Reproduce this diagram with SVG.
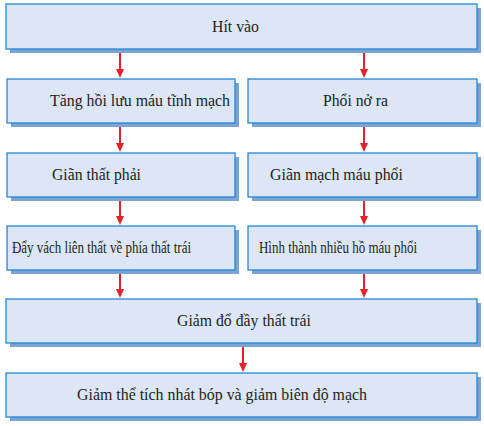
<svg xmlns="http://www.w3.org/2000/svg" width="484" height="426" viewBox="0 0 484 426">
<defs>
<style>
.sh{fill:#7ba3d6;}
.bx{fill:#dce6f4;stroke:#2288d8;stroke-width:1.3;}
.t{font-family:"Liberation Serif","Times New Roman",serif;font-size:16.5px;fill:#231f20;}
.c{stroke:#e8202a;stroke-width:2;fill:none;}
.h{fill:#e8202a;}
</style>
</defs>
<rect width="484" height="426" fill="#ffffff"/>
<g id="n1"><rect class="sh" x="10" y="8" width="471" height="45"/><rect class="bx" x="6" y="4" width="471" height="45"/><text class="t" x="212" y="32" textLength="47" lengthAdjust="spacingAndGlyphs">Hít vào</text></g>
<g id="n2"><rect class="sh" x="11" y="83" width="228" height="44"/><rect class="bx" x="7" y="79" width="228" height="44"/><text class="t" x="50" y="106" textLength="180" lengthAdjust="spacingAndGlyphs">Tăng hồi lưu máu tĩnh mạch</text></g>
<g id="n3"><rect class="sh" x="252" y="83" width="229" height="44"/><rect class="bx" x="248" y="79" width="229" height="44"/><text class="t" x="323" y="106" textLength="65" lengthAdjust="spacingAndGlyphs">Phổi nở ra</text></g>
<g id="n4"><rect class="sh" x="11" y="157" width="228" height="44"/><rect class="bx" x="7" y="153" width="228" height="44"/><text class="t" x="52" y="180" textLength="89" lengthAdjust="spacingAndGlyphs">Giãn thất phải</text></g>
<g id="n5"><rect class="sh" x="252" y="157" width="229" height="44"/><rect class="bx" x="248" y="153" width="229" height="44"/><text class="t" x="270" y="180" textLength="133" lengthAdjust="spacingAndGlyphs">Giãn mạch máu phổi</text></g>
<g id="n6"><rect class="sh" x="11" y="230" width="228" height="44"/><rect class="bx" x="7" y="226" width="228" height="44"/><text class="t" x="12" y="253" textLength="179" lengthAdjust="spacingAndGlyphs">Đẩy  vách liên thất về phía thất trái</text></g>
<g id="n7"><rect class="sh" x="252" y="230" width="229" height="44"/><rect class="bx" x="248" y="226" width="229" height="44"/><text class="t" x="259" y="253" textLength="158" lengthAdjust="spacingAndGlyphs">Hình thành nhiều hồ máu phổi</text></g>
<g id="n8"><rect class="sh" x="10" y="303" width="471" height="44"/><rect class="bx" x="6" y="299" width="471" height="44"/><text class="t" x="177" y="326" textLength="134" lengthAdjust="spacingAndGlyphs">Giảm đổ đầy thất trái</text></g>
<g id="n9"><rect class="sh" x="10" y="377" width="471" height="44"/><rect class="bx" x="6" y="373" width="471" height="44"/><text class="t" x="77" y="400" textLength="290" lengthAdjust="spacingAndGlyphs">Giảm thể tích nhát bóp và giảm biên độ mạch</text></g>
<g id="connectors">
<line class="c" x1="120" y1="53" x2="120" y2="70"/><path class="h" d="M116,69 L124,69 L120,78 Z"/>
<line class="c" x1="364" y1="53" x2="364" y2="70"/><path class="h" d="M360,69 L368,69 L364,78 Z"/>
<line class="c" x1="120" y1="127" x2="120" y2="144"/><path class="h" d="M116,143 L124,143 L120,152 Z"/>
<line class="c" x1="364" y1="127" x2="364" y2="144"/><path class="h" d="M360,143 L368,143 L364,152 Z"/>
<line class="c" x1="120" y1="201" x2="120" y2="217"/><path class="h" d="M116,216 L124,216 L120,225 Z"/>
<line class="c" x1="364" y1="201" x2="364" y2="217"/><path class="h" d="M360,216 L368,216 L364,225 Z"/>
<line class="c" x1="120" y1="274" x2="120" y2="290"/><path class="h" d="M116,289 L124,289 L120,298 Z"/>
<line class="c" x1="364" y1="274" x2="364" y2="290"/><path class="h" d="M360,289 L368,289 L364,298 Z"/>
<line class="c" x1="243" y1="347" x2="243" y2="364"/><path class="h" d="M239,363 L247,363 L243,372 Z"/>
</g>
</svg>
